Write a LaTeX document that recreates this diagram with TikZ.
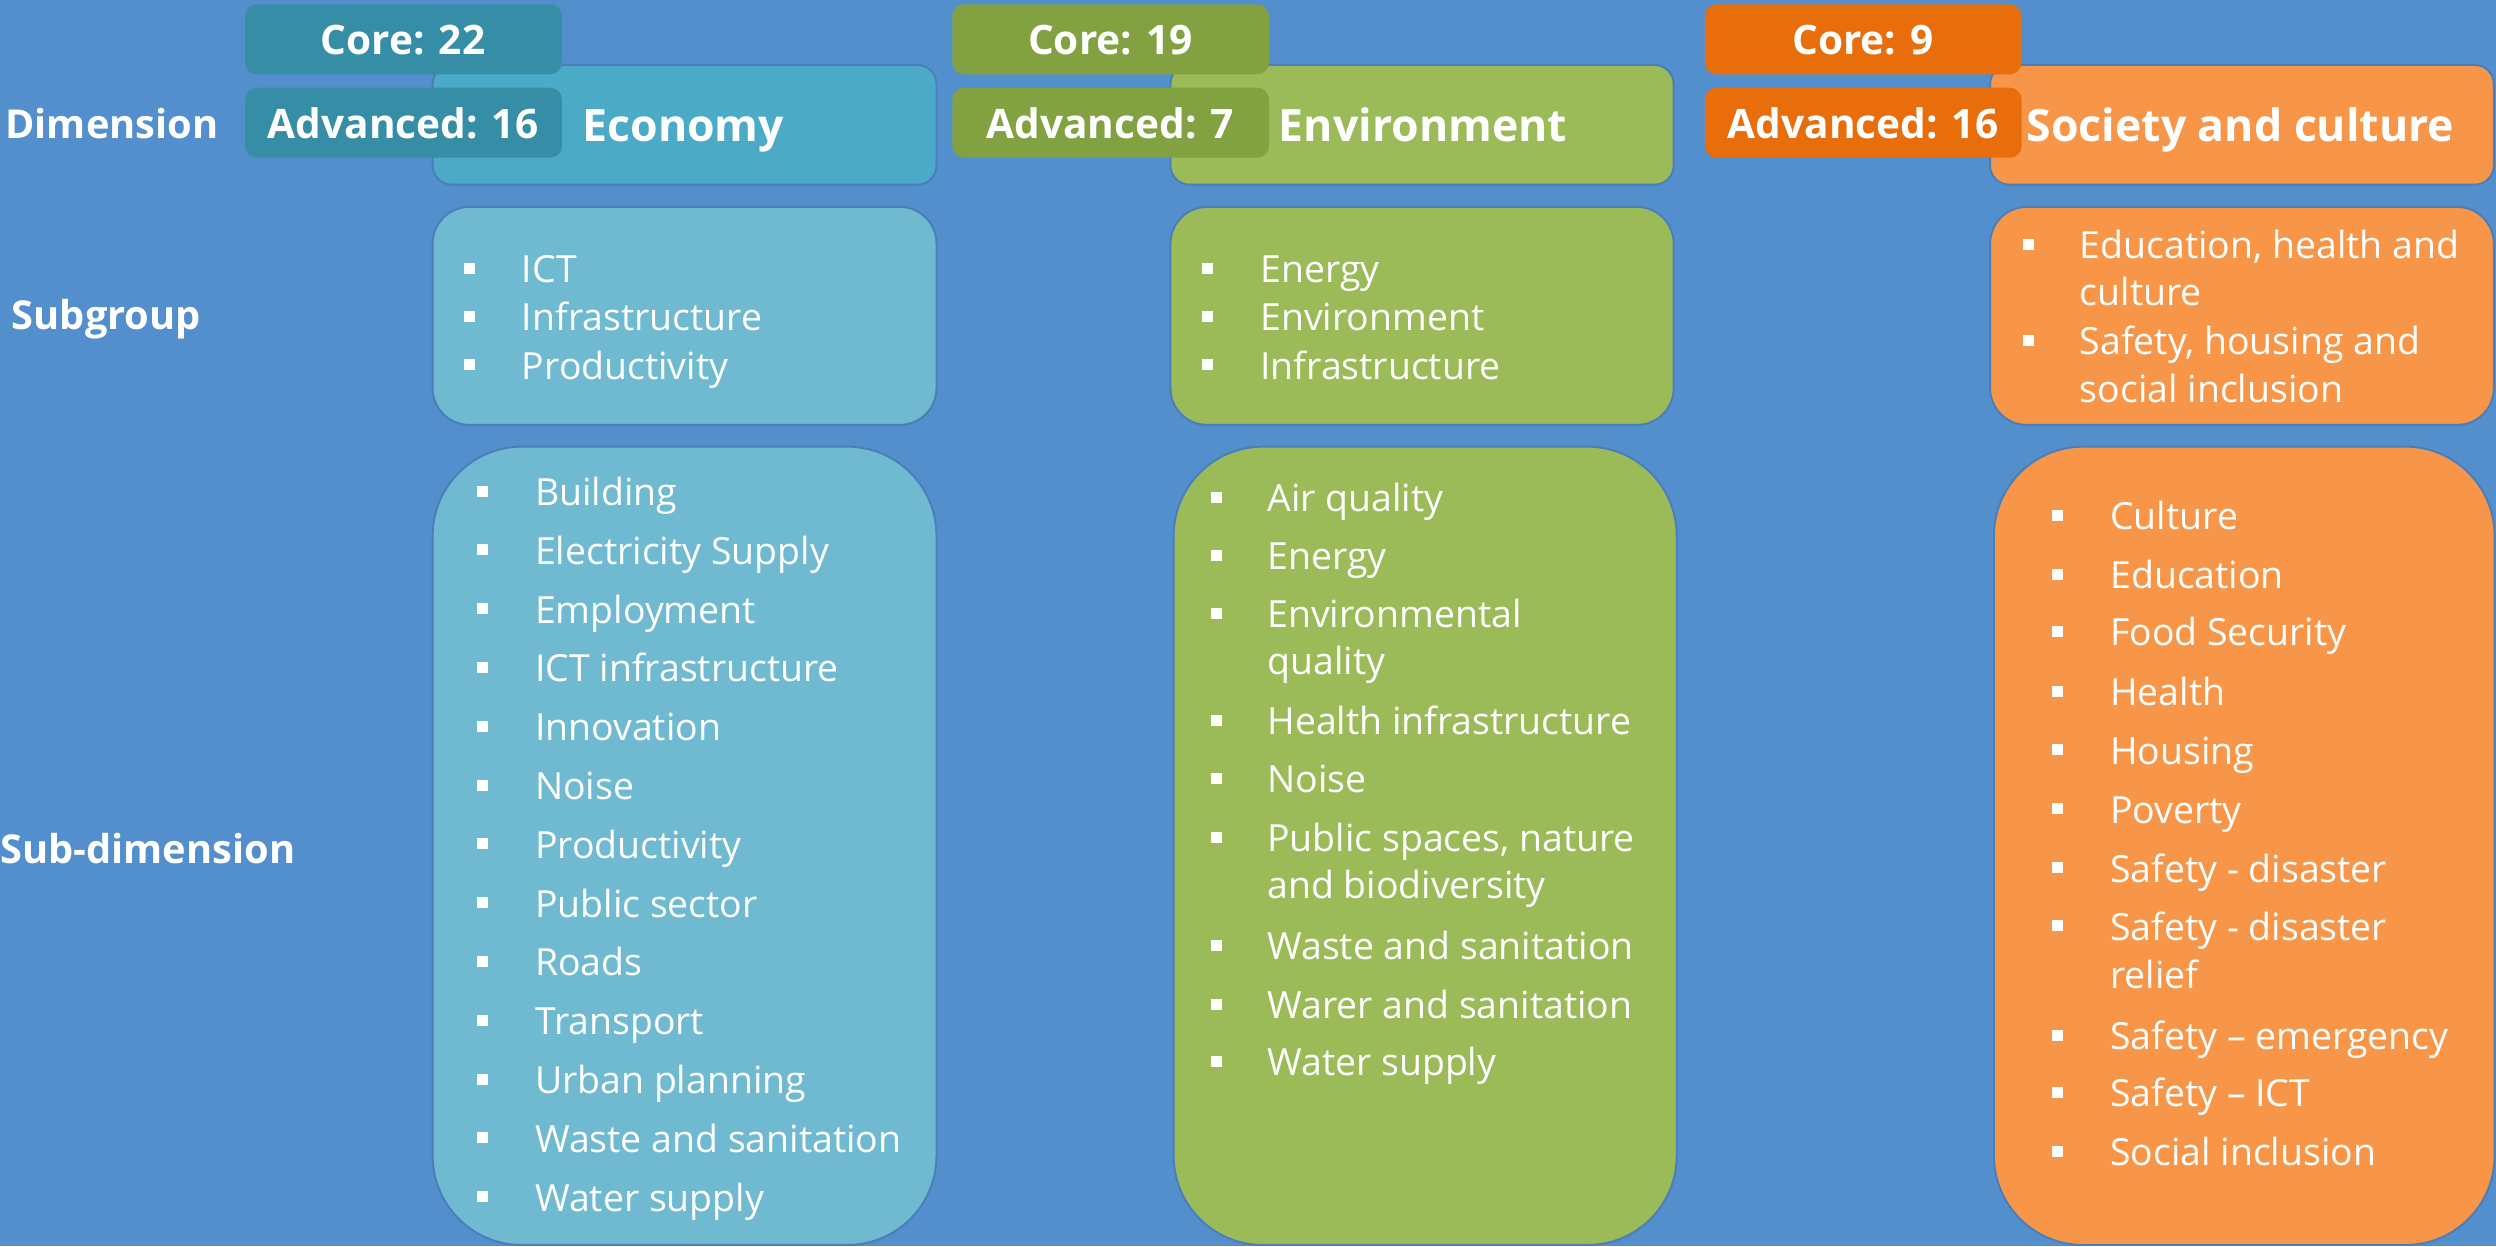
\documentclass[tikz,border=0pt]{standalone}
\usepackage{fontspec}
\setmainfont{Open Sans}
\definecolor{bg}{RGB}{83,143,204}
\definecolor{ecoDim}{RGB}{75,170,197}
\definecolor{ecoCore}{RGB}{53,142,166}
\definecolor{ecoLight}{RGB}{111,186,208}
\definecolor{envDim}{RGB}{155,187,89}
\definecolor{envCore}{RGB}{130,162,66}
\definecolor{socDim}{RGB}{247,150,72}
\definecolor{socCore}{RGB}{232,110,12}
\definecolor{edge}{RGB}{74,125,185}
\tikzset{
  box/.style={draw=edge, line width=1.2pt, inner sep=0pt, anchor=north west, rectangle},
  dimbox/.style={box, rounded corners=12pt, minimum height=75.2pt},
  subbox/.style={box, rounded corners=23pt, minimum height=136.9pt},
  sdbox/.style={box, rounded corners=56pt, minimum height=501.5pt},
  corebox/.style={rectangle, inner sep=0pt, anchor=north west, rounded corners=7.5pt, minimum width=199pt, minimum height=44pt},
  itemtext/.style={anchor=base west, inner sep=0pt, text=white, font=\fontsize{23.5}{28}\selectfont},
  headtext/.style={anchor=base west, inner sep=0pt, text=white, font=\bfseries\fontsize{28}{34}\selectfont},
  coretext/.style={anchor=base, inner sep=0pt, text=white, font=\bfseries\fontsize{25.5}{30}\selectfont},
  rowtext/.style={anchor=base west, inner sep=0pt, text=white, font=\bfseries\fontsize{25}{30}\selectfont},
  bulletsq/.style={fill=white, minimum size=6.9pt, inner sep=0pt, rectangle},
}
\newcommand\bitm[5]{\node[bulletsq] (#1b) at (#2,{#4-9}) {}; \node[itemtext] (#1) at (#3,#4) {#5};}
\newcommand\citm[4]{\node[itemtext] (#1) at (#2,#3) {#4};}
\begin{document}
\begin{tikzpicture}[x=1pt,y=-1pt]
\fill[bg] (0,0) rectangle (1568,783);
\useasboundingbox (0,0) rectangle (1568,783);

% row labels
\node[rowtext] (lDim) at (3.2,86.9) {Dimension};
\node[rowtext] (lSub) at (7.2,207.3) {Subgroup};
\node[rowtext] (lSD) at (0,542.3) {Sub-dimension};

% ---------- Economy ----------
\node[dimbox, fill=ecoDim, minimum width=316.5pt] (ecoD) at (271.2,40.2) {};
\node[subbox, fill=ecoLight, minimum width=316.5pt] (ecoS) at (271.2,129.4) {};
\node[sdbox, fill=ecoLight, minimum width=316.5pt] (ecoSD) at (271.2,280) {};
\node[corebox, fill=ecoCore] (ecoC) at (153.8,2.5) {};
\node[corebox, fill=ecoCore] (ecoA) at (153.8,54.9) {};
\node[coretext] (ecoCt) at (253.2,34.5) {Core: 22};
\node[coretext] (ecoAt) at (253.2,86.9) {Advanced: 16};
\node[headtext] (ecoT) at (365.8,89) {Economy};
\bitm{es1}{295.2}{327.7}{177.6}{ICT}
\bitm{es2}{295.2}{327.7}{207.9}{Infrastructure}
\bitm{es3}{295.2}{327.7}{238.1}{Productivity}
\bitm{ed1}{303}{336}{317.5}{Building}
\bitm{ed2}{303}{336}{354.4}{Electricity Supply}
\bitm{ed3}{303}{336}{391.4}{Employment}
\bitm{ed4}{303}{336}{428.3}{ICT infrastructure}
\bitm{ed5}{303}{336}{465.3}{Innovation}
\bitm{ed6}{303}{336}{502.2}{Noise}
\bitm{ed7}{303}{336}{539.1}{Productivity}
\bitm{ed8}{303}{336}{576.1}{Public sector}
\bitm{ed9}{303}{336}{613.0}{Roads}
\bitm{ed10}{303}{336}{650.0}{Transport}
\bitm{ed11}{303}{336}{686.9}{Urban planning}
\bitm{ed12}{303}{336}{723.8}{Waste and sanitation}
\bitm{ed13}{303}{336}{760.8}{Water supply}

% ---------- Environment ----------
\node[dimbox, fill=envDim, minimum width=316.1pt] (envD) at (734.7,40.2) {};
\node[subbox, fill=envDim, minimum width=316.1pt] (envS) at (734.7,129.4) {};
\node[sdbox, fill=envDim, minimum width=316pt] (envSD) at (736.7,280) {};
\node[corebox, fill=envCore] (envC) at (598,2.5) {};
\node[corebox, fill=envCore] (envA) at (598,54.9) {};
\node[coretext] (envCt) at (697.5,34.5) {Core: 19};
\node[coretext] (envAt) at (697.5,86.9) {Advanced: 7};
\node[headtext] (envT) at (803.2,89) {Environment};
\bitm{vs1}{758.4}{791.6}{177.6}{Energy}
\bitm{vs2}{758.4}{791.6}{207.9}{Environment}
\bitm{vs3}{758.4}{791.6}{238.1}{Infrastructure}
\bitm{vd1}{764}{796}{321.5}{Air quality}
\bitm{vd2}{764}{796}{357.8}{Energy}
\bitm{vd3}{764}{796}{394.4}{Environmental}
\citm{vd3c}{796}{423.9}{quality}
\bitm{vd4}{764}{796}{461.5}{Health infrastructure}
\bitm{vd5}{764}{796}{498.1}{Noise}
\bitm{vd6}{764}{796}{535.1}{Public spaces, nature}
\citm{vd6c}{796}{564.5}{and biodiversity}
\bitm{vd7}{764}{796}{602.8}{Waste and sanitation}
\bitm{vd8}{764}{796}{639.8}{Warer and sanitation}
\bitm{vd9}{764}{796}{675.8}{Water supply}

% ---------- Society and culture ----------
\node[dimbox, fill=socDim, minimum width=316.4pt] (socD) at (1249.6,40.2) {};
\node[subbox, fill=socDim, minimum width=316.4pt] (socS) at (1249.6,129.4) {};
\node[sdbox, fill=socDim, minimum width=314.5pt] (socSD) at (1252,280) {};
\node[corebox, fill=socCore] (socC) at (1070.8,2.5) {};
\node[corebox, fill=socCore] (socA) at (1070.8,54.9) {};
\node[coretext] (socCt) at (1170.3,34.5) {Core: 9};
\node[coretext] (socAt) at (1170.3,86.9) {Advanced: 16};
\node[headtext] (socT) at (1273,89) {Society and culture};
\bitm{ss1}{1274.2}{1306.4}{162.3}{Education, health and}
\citm{ss1c}{1306.4}{192.2}{culture}
\bitm{ss2}{1274.2}{1306.4}{223}{Safety, housing and}
\citm{ss2c}{1306.4}{252.9}{social inclusion}
\bitm{sd1}{1292.6}{1325.5}{332.9}{Culture}
\bitm{sd2}{1292.6}{1325.5}{369.9}{Education}
\bitm{sd3}{1292.6}{1325.5}{405.8}{Food Security}
\bitm{sd4}{1292.6}{1325.5}{443.5}{Health}
\bitm{sd5}{1292.6}{1325.5}{480.1}{Housing}
\bitm{sd6}{1292.6}{1325.5}{517.1}{Poverty}
\bitm{sd7}{1292.6}{1325.5}{554.1}{Safety - disaster}
\bitm{sd8}{1292.6}{1325.5}{590.7}{Safety - disaster}
\citm{sd8c}{1325.5}{620.8}{relief}
\bitm{sd9}{1292.6}{1325.5}{659.4}{Safety – emergency}
\bitm{sd10}{1292.6}{1325.5}{695.4}{Safety – ICT}
\bitm{sd11}{1292.6}{1325.5}{732.3}{Social inclusion}
\end{tikzpicture}
\end{document}
